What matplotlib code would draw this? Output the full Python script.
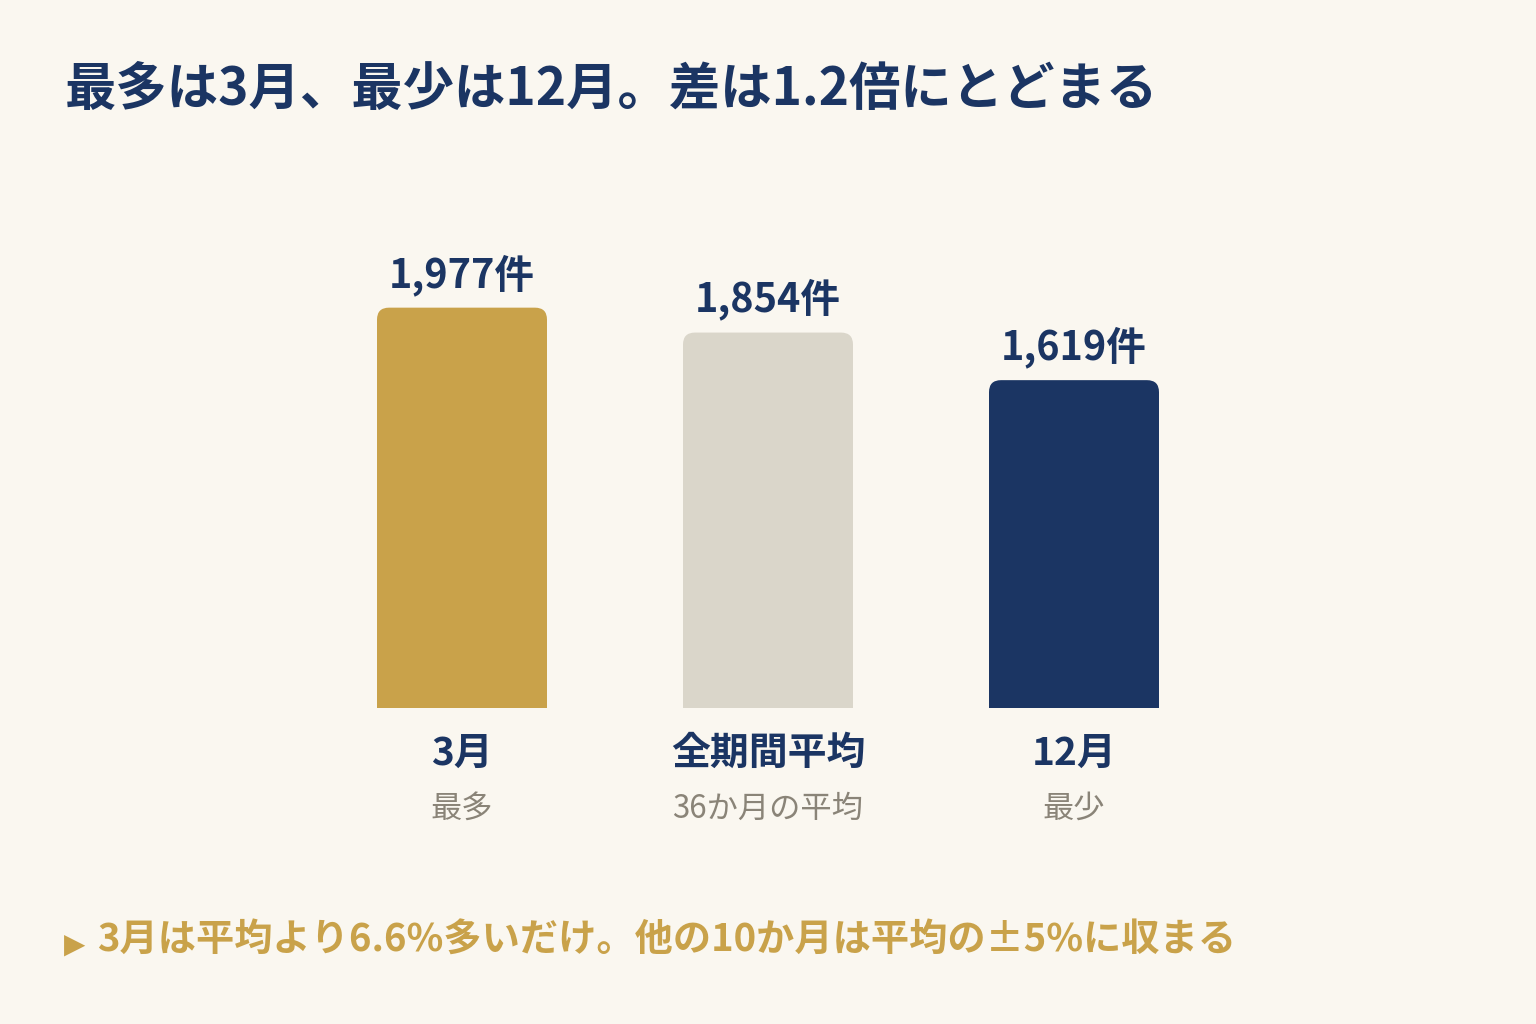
import matplotlib
matplotlib.use("Agg")
import matplotlib.pyplot as plt
from matplotlib.patches import FancyBboxPatch

plt.rcParams['font.family'] = ['Noto Sans CJK JP', 'DejaVu Sans']

# データ
categories = ['3月', '全期間平均', '12月']
sub_labels = ['最多', '36か月の平均', '最少']
values = [1977, 1854, 1619]

title = '最多は3月、最少は12月。差は1.2倍にとどまる'
note = '3月は平均より6.6%多いだけ。他の10か月は平均の±5%に収まる'

# 色
bg = '#FAF7F0'
navy = '#1B3563'
gold = '#C9A24A'
grey_bar = '#DAD6CA'
grey_text = '#8A8478'
bar_colors = [gold, grey_bar, navy]

W, H = 1536, 1024
fig = plt.figure(figsize=(W / 100, H / 100), dpi=100, facecolor=bg)

# 軸: 1目盛り = 306px, y 0..2000
ax = fig.add_axes([309 / W, 316 / H, 918 / W, 405 / H])
ax.set_xlim(-0.5, 2.5)
ax.set_ylim(0, 2000)
ax.axis('off')

px_x = 3 / 918
px_y = 2000 / 405
r_px = 12
bar_w = 170 / 306

x = list(range(len(categories)))
bars = ax.bar(x, [v - r_px * px_y for v in values], width=bar_w,
              color=bar_colors, linewidth=0)

# 上だけ角丸にする
for b, v, c in zip(bars, values, bar_colors):
    p = FancyBboxPatch((b.get_x(), 0), b.get_width(), v,
                       boxstyle=f"round,pad=0,rounding_size={r_px * px_x}",
                       mutation_aspect=px_y / px_x,
                       facecolor=c, edgecolor='none', linewidth=0)
    ax.add_patch(p)

for xi, v, cat, sub in zip(x, values, categories, sub_labels):
    ax.annotate(f"{v:,}件", xy=(xi, v), xytext=(0, 15), textcoords='offset points',
                ha='center', va='baseline', fontsize=28.5, fontweight='bold',
                color=navy, annotation_clip=False)
    ax.annotate(cat, xy=(xi, 0), xytext=(0, -33), textcoords='offset points',
                ha='center', va='center', fontsize=28, fontweight='bold',
                color=navy, annotation_clip=False)
    ax.annotate(sub, xy=(xi, 0), xytext=(0, -72.5), textcoords='offset points',
                ha='center', va='center', fontsize=22.5, color=grey_text,
                annotation_clip=False)

fig.text(65 / W, 1 - 90 / H, title, ha='left', va='center',
         fontsize=37, fontweight='bold', color=navy)

fig.text(64 / W, 1 - 945 / H, '▶', family='DejaVu Sans', ha='left', va='center',
         fontsize=20, color=gold)
fig.text(97 / W, 1 - 940 / H, note, ha='left', va='center',
         fontsize=27.5, fontweight='bold', color=gold)

fig.savefig('out.png', dpi=100, facecolor=bg)
